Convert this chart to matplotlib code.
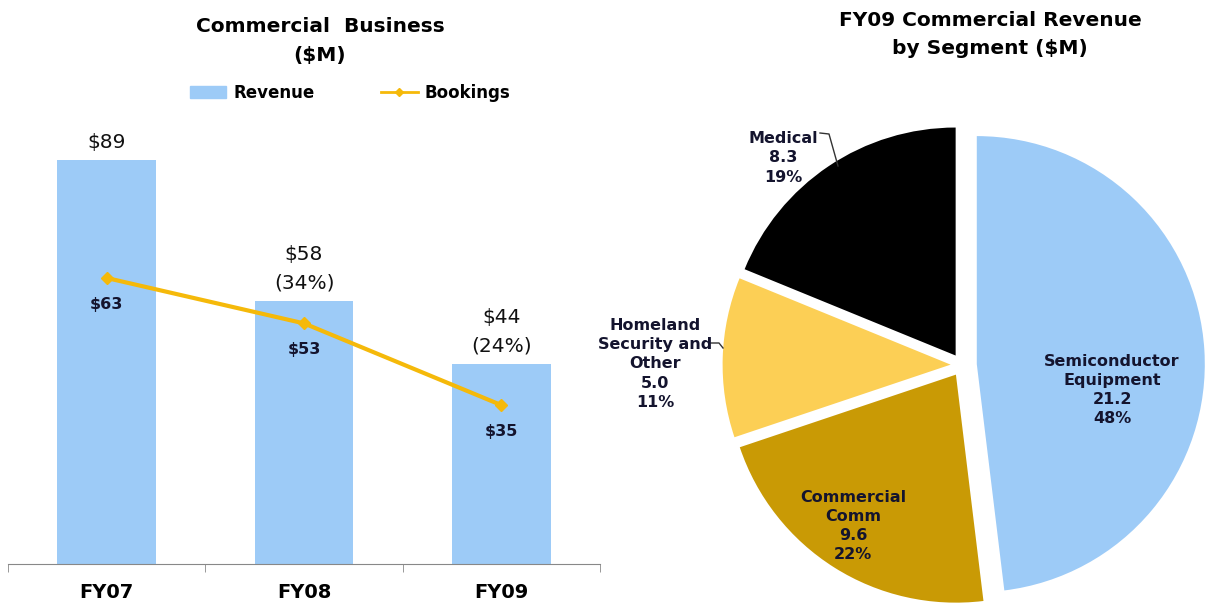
import numpy as np
import matplotlib.pyplot as plt
from matplotlib.patches import Patch
from matplotlib.lines import Line2D

years = ['FY07', 'FY08', 'FY09']
revenue = [89, 58, 44]
revenue_chg = ['', '(34%)', '(24%)']
bookings = [63, 53, 35]

segments = ['Semiconductor\nEquipment', 'Commercial\nComm', 'Homeland\nSecurity and\nOther', 'Medical']
seg_values = [21.2, 9.6, 5.0, 8.3]
seg_pcts = [48, 22, 11, 19]

BLUE = '#9DCBF7'
GOLD = '#F5B90A'
NAVY = '#14142e'

plt.rcParams['font.family'] = ['DejaVu Sans']

fig = plt.figure(figsize=(12.07, 6.10), dpi=100)

# ---- left: bar + line
W, H = 1207.0, 610.0
ax = fig.add_axes([8 / W, 1 - 564 / H, (600 - 8) / W, (564 - 110) / H])
x = np.arange(len(years))
ax.bar(x, revenue, width=0.5, color=BLUE)
ax.plot(x, bookings, color=GOLD, lw=3, marker='D', ms=6)
ax.set_xlim(-0.5, 2.5)
ax.set_ylim(0, 100)
for s in ['top', 'left', 'right']:
    ax.spines[s].set_visible(False)
ax.spines['bottom'].set_color('#888888')
ax.set_yticks([])
ax.set_xticks(x)
ax.set_xticklabels(years, fontsize=14, fontweight='bold')
ax.tick_params(axis='x', which='major', length=0, pad=14)
ax.set_xticks([-0.5, 0.5, 1.5, 2.5], minor=True)
ax.tick_params(axis='x', which='minor', length=6, color='#888888', direction='out')

for i in range(len(years)):
    txt = '$%d' % revenue[i]
    if revenue_chg[i]:
        txt += '\n' + revenue_chg[i]
    ax.annotate(txt, (x[i], revenue[i]), xytext=(0, 6), textcoords='offset points',
                ha='center', va='bottom', fontsize=14.5, linespacing=1.65, color='#111111')
    ax.annotate('$%d' % bookings[i], (x[i], bookings[i]), xytext=(0, -19),
                textcoords='offset points', ha='center', va='center',
                fontsize=11.5, fontweight='bold', color=NAVY)

fig.text(320 / W, 1 - 41 / H, 'Commercial  Business\n($M)', ha='center', va='center',
         fontsize=14.5, fontweight='bold', linespacing=1.6)
handles = [Patch(color=BLUE), Line2D([0], [0], color=GOLD, lw=2, marker='D', ms=4)]
fig.legend(handles, ['Revenue', 'Bookings'], loc='center', bbox_to_anchor=(350 / W, 1 - 93 / H),
           ncol=2, frameon=False, prop={'size': 12, 'weight': 'bold'}, columnspacing=4,
           handlelength=2.2, handletextpad=0.4)

# ---- right: pie
R = 228.0
cx, cy = 962.0, 365.0
left, right, top, bottom = 600.0, 1207.0, 95.0, 610.0
pax = fig.add_axes([left / W, 1 - bottom / H, (right - left) / W, (bottom - top) / H])
colors = [BLUE, '#C99A05', '#FCCF55', '#000000']
pax.pie(seg_values, colors=colors, startangle=90, counterclock=False,
        explode=[0.065, 0.05, 0.05, 0.05], wedgeprops={'linewidth': 0})
pax.set_xlim((left - cx) / R, (right - cx) / R)
pax.set_ylim((cy - bottom) / R, (cy - top) / R)
pax.set_aspect('auto')
pax.axis('off')

lab = ['%s\n%.1f\n%d%%' % (segments[i], seg_values[i], seg_pcts[i]) for i in range(4)]
kw = dict(ha='center', va='center', fontsize=11.5, fontweight='bold', color=NAVY, linespacing=1.35)
pax.text((1112 - cx) / R, (cy - 390) / R, lab[0], **kw)
pax.text((853 - cx) / R, (cy - 526) / R, lab[1], **kw)
pax.text((655 - cx) / R, (cy - 364) / R, lab[2], **kw)
pax.text((783 - cx) / R, (cy - 158) / R, lab[3], **kw)
# leader lines
pax.plot([(820 - cx) / R, (829 - cx) / R, (838 - cx) / R],
         [(cy - 133) / R, (cy - 134) / R, (cy - 166) / R], color='#333333', lw=1)
pax.plot([(711 - cx) / R, (719 - cx) / R, (723 - cx) / R],
         [(cy - 343) / R, (cy - 343) / R, (cy - 348) / R], color='#333333', lw=1)

fig.text(990 / W, 1 - 35 / H, 'FY09 Commercial Revenue\nby Segment ($M)', ha='center', va='center',
         fontsize=14.5, fontweight='bold', linespacing=1.6)

fig.savefig('out.png', dpi=100)
